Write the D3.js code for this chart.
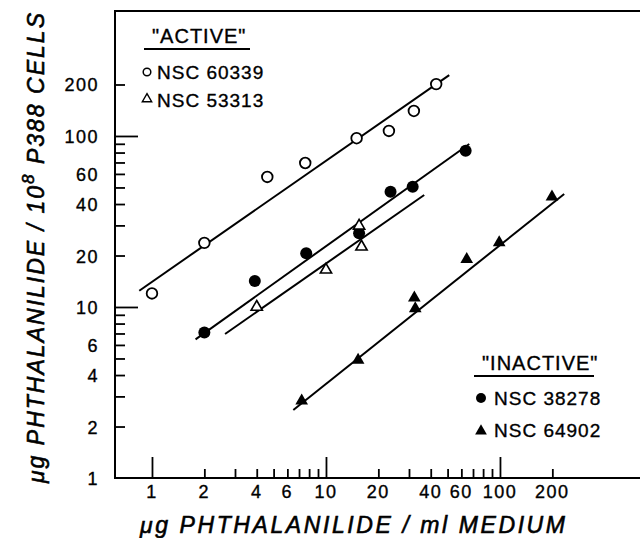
<!DOCTYPE html>
<html>
<head>
<meta charset="utf-8">
<script src="https://cdn.jsdelivr.net/npm/d3@7"></script>
<style>
  body { margin: 0; background: #fff; }
  text { font-family: "Liberation Sans", Arial, sans-serif; fill: #000; }
</style>
</head>
<body>
<svg id="chart" width="640" height="538"></svg>
<script>
// ---- data ----
var openCircleX = [1, 2, 4.6, 7.6, 15, 23, 32, 43];
var openCircleY = [12, 23.7, 57.6, 69.5, 97, 107, 140, 201];
var openCircleFitX = [0.845, 51.1];
var openCircleFitY = [12.45, 227];

var filledCircleX = [2, 3.9, 7.7, 15.5, 23.5, 31.5, 63.5];
var filledCircleY = [7.1, 14.2, 20.6, 27, 47.2, 50.5, 82];
var filledCircleFitX = [1.78, 66.6];
var filledCircleFitY = [6.47, 89.8];

var openTriX = [4, 10, 15.5, 16];
var openTriY = [10, 16.5, 29.8, 22.5];
var openTriFitX = [2.63, 36.7];
var openTriFitY = [6.95, 45.2];

var filledTriX = [7.25, 15.3, 32.2, 32.6, 64.4, 99, 199];
var filledTriY = [2.83, 4.9, 11.3, 9.8, 19, 23.8, 44];
var filledTriFitX = [6.49, 234];
var filledTriFitY = [2.5, 45.8];

var xMajorTicks = [1, 10, 100];
var xMinorTicks = [2, 3, 4, 5, 6, 7, 8, 9, 20, 30, 40, 50, 60, 70, 80, 90, 200];
var xTickLabels = [1, 2, 4, 6, 10, 20, 40, 60, 100, 200];
var yMajorTicks = [10, 100];
var yMinorTicks = [2, 3, 4, 5, 6, 7, 8, 9, 20, 30, 40, 50, 60, 70, 80, 90, 200];
var yTickLabels = [1, 2, 4, 6, 10, 20, 40, 60, 100, 200];

var svg = d3.select('#chart');

var x = d3.scaleLog().domain([0.613, 638]).range([115, 640]);
var y = d3.scaleLog().domain([1, 538]).range([478, 11]);

// frame (left, top, bottom)
svg.append('path')
    .attr('d', 'M640,' + y(538) + 'H' + x(0.613) + 'V' + y(1) + 'H640')
    .attr('fill', 'none')
    .attr('stroke', '#000')
    .attr('stroke-width', 2);

// ticks
function tickAxis(axis, tf) {
    var g = svg.append('g').attr('transform', tf).call(axis);
    g.select('.domain').remove();
    g.selectAll('.tick line').attr('stroke-width', 1.8);
    g.selectAll('.tick text').remove();
}
tickAxis(d3.axisBottom(x).tickValues(xMajorTicks).tickSize(-21), 'translate(0,' + y(1) + ')');
tickAxis(d3.axisBottom(x).tickValues(xMinorTicks).tickSize(-9), 'translate(0,' + y(1) + ')');
tickAxis(d3.axisLeft(y).tickValues(yMajorTicks).tickSize(-23), 'translate(' + x(0.613) + ',0)');
tickAxis(d3.axisLeft(y).tickValues(yMinorTicks).tickSize(-10), 'translate(' + x(0.613) + ',0)');

// tick labels
svg.append('g').selectAll('text')
    .data(xTickLabels)
    .enter().append('text')
    .attr('x', function(d) { return x(d); })
    .attr('y', 498)
    .attr('text-anchor', 'middle')
    .style('font-size', '18px')
    .style('letter-spacing', '1.5px')
    .style('stroke', '#000').style('stroke-width', 0.35)
    .text(function(d) { return d; });

svg.append('g').selectAll('text')
    .data(yTickLabels)
    .enter().append('text')
    .attr('x', 99)
    .attr('y', function(d) { return y(d) + 7; })
    .attr('text-anchor', 'end')
    .style('font-size', '18px')
    .style('letter-spacing', '1.5px')
    .style('stroke', '#000').style('stroke-width', 0.35)
    .text(function(d) { return d; });

// axis titles
svg.append('text')
    .attr('x', 140)
    .attr('y', 533)
    .attr('textLength', 425)
    .attr('lengthAdjust', 'spacing')
    .style('font-size', '23px')
    .style('font-style', 'italic')
    .style('stroke', '#000').style('stroke-width', 0.6)
    .text('\u03bcg PHTHALANILIDE / ml MEDIUM');

var yTitle = svg.append('text')
    .attr('transform', 'translate(44,483) rotate(-90)')
    .attr('textLength', 470)
    .attr('lengthAdjust', 'spacing')
    .style('font-size', '23px')
    .style('font-style', 'italic')
    .style('stroke', '#000').style('stroke-width', 0.6);
yTitle.append('tspan').text('\u03bcg PHTHALANILIDE / 10');
yTitle.append('tspan').attr('dy', -10).style('font-size', '17px').text('8');
yTitle.append('tspan').attr('dy', 10).text(' P388 CELLS');

// fitted lines
var line = d3.line()
    .x(function(d) { return x(d[0]); })
    .y(function(d) { return y(d[1]); });
[[openCircleFitX, openCircleFitY], [filledCircleFitX, filledCircleFitY],
 [openTriFitX, openTriFitY], [filledTriFitX, filledTriFitY]].forEach(function(f) {
    svg.append('path')
        .attr('d', line(d3.zip(f[0], f[1])))
        .attr('fill', 'none')
        .attr('stroke', '#000')
        .attr('stroke-width', 2);
});

// markers
var triOpen = d3.symbol().type(d3.symbolTriangle).size(55);
var triFilled = d3.symbol().type(d3.symbolTriangle).size(70);

svg.append('g').selectAll('circle')
    .data(d3.zip(openCircleX, openCircleY))
    .enter().append('circle')
    .attr('cx', function(d) { return x(d[0]); })
    .attr('cy', function(d) { return y(d[1]); })
    .attr('r', 5.3)
    .attr('fill', '#fff')
    .attr('stroke', '#000')
    .attr('stroke-width', 1.8);

svg.append('g').selectAll('circle')
    .data(d3.zip(filledCircleX, filledCircleY))
    .enter().append('circle')
    .attr('cx', function(d) { return x(d[0]); })
    .attr('cy', function(d) { return y(d[1]); })
    .attr('r', 6)
    .attr('fill', '#000');

svg.append('g').selectAll('path')
    .data(d3.zip(openTriX, openTriY))
    .enter().append('path')
    .attr('d', triOpen)
    .attr('transform', function(d) { return 'translate(' + x(d[0]) + ',' + y(d[1]) + ')'; })
    .attr('fill', '#fff')
    .attr('stroke', '#000')
    .attr('stroke-width', 1.6);

svg.append('g').selectAll('path')
    .data(d3.zip(filledTriX, filledTriY))
    .enter().append('path')
    .attr('d', triFilled)
    .attr('transform', function(d) { return 'translate(' + x(d[0]) + ',' + y(d[1]) + ')'; })
    .attr('fill', '#000');

// legends
function legendTitle(label, lx, ly, w) {
    svg.append('text')
        .attr('x', lx).attr('y', ly)
        .style('font-size', '20px')
        .style('letter-spacing', '1px')
        .style('stroke', '#000').style('stroke-width', 0.35)
        .text(label);
    svg.append('line')
        .attr('x1', lx - 8).attr('x2', lx - 8 + w)
        .attr('y1', ly + 6).attr('y2', ly + 6)
        .attr('stroke', '#000').attr('stroke-width', 1.8);
}
function legendEntry(label, lx, ly) {
    svg.append('text')
        .attr('x', lx).attr('y', ly)
        .style('font-size', '19px')
        .style('letter-spacing', '1px')
        .style('stroke', '#000').style('stroke-width', 0.35)
        .text(label);
}

legendTitle('"ACTIVE"', 152, 43, 106);
svg.append('circle').attr('cx', 147).attr('cy', 72).attr('r', 3.8)
    .attr('fill', 'none').attr('stroke', '#000').attr('stroke-width', 1.5);
legendEntry('NSC 60339', 157, 79);
svg.append('path').attr('d', d3.symbol().type(d3.symbolTriangle).size(38))
    .attr('transform', 'translate(147,99)')
    .attr('fill', 'none').attr('stroke', '#000').attr('stroke-width', 1.4);
legendEntry('NSC 53313', 157, 107);

legendTitle('"INACTIVE"', 482, 370, 120);
svg.append('circle').attr('cx', 481).attr('cy', 398).attr('r', 5).attr('fill', '#000');
legendEntry('NSC 38278', 494, 405);
svg.append('path').attr('d', d3.symbol().type(d3.symbolTriangle).size(60))
    .attr('transform', 'translate(481,431)')
    .attr('fill', '#000');
legendEntry('NSC 64902', 494, 437);
</script>
</body>
</html>
